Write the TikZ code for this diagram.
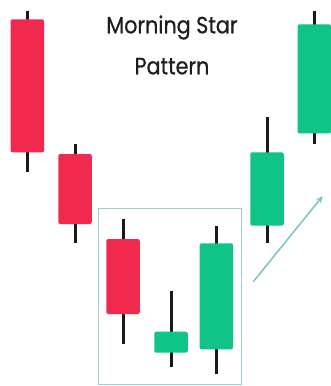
\documentclass[tikz,border=0pt]{standalone}
\usepackage{fontspec}
\setmainfont{Poppins}[FakeStretch=0.88, FakeBold=0.6]
\usetikzlibrary{arrows.meta}
\definecolor{cred}{HTML}{F2294E}
\definecolor{cgreen}{HTML}{0FC486}
\definecolor{cbox}{HTML}{9ACFD6}
\definecolor{carrow}{HTML}{7DC0C6}
\definecolor{ctext}{HTML}{1E1E1E}
\tikzset{
  body/.style={rounded corners=2pt, inner sep=0pt, minimum width=33.5pt},
  wick/.style={line width=3pt, black!90},
  title/.style={font=\fontsize{23.5}{23.5}\selectfont, text=ctext, anchor=base, inner sep=0pt},
}
\newcommand{\candle}[7]{%
  % name, cx, body top, body bottom, wick top, wick bottom, colour
  \coordinate (#1t) at (#2,#5);
  \coordinate (#1b) at (#2,#6);
  \draw[wick] (#1t) -- (#1b);
  \pgfmathsetmacro{\bh}{#4-#3}
  \node[body, fill=#7, minimum height=\bh pt] (#1) at (#2,{(#3+#4)/2}) {};
}
\begin{document}
\begin{tikzpicture}[x=1pt,y=-1pt]
\useasboundingbox[fill=white] (0,0) rectangle (331,386);
\node[title] (t1) at (172,33.3) {Morning Star};
\node[title] (t2) at (172,74.3) {Pattern};
\candle{c1}{27.3}{19.3}{152.3}{10.7}{171.7}{cred}
\candle{c2}{75}{154}{224}{144}{243.3}{cred}
\candle{c3}{123}{239}{314}{219.3}{344}{cred}
\candle{c4}{171}{331.7}{352.7}{291}{366.7}{cgreen}
\candle{c5}{216.3}{243.3}{349.3}{226}{374}{cgreen}
\candle{c6}{267}{152.3}{225.7}{117.3}{243.3}{cgreen}
\candle{c7}{314.3}{24.3}{133.3}{10.7}{144}{cgreen}
\node[draw=cbox, line width=1pt, inner sep=0pt, minimum width=143pt, minimum height=176.5pt] (box) at (170.2,296.3) {};
\coordinate (a1) at (253.3,281.7);
\coordinate (a2) at (322.7,196);
\draw[carrow, line width=1.5pt, -{Stealth[length=7pt,width=6pt]}] (a1) -- (a2);
\end{tikzpicture}
\end{document}
